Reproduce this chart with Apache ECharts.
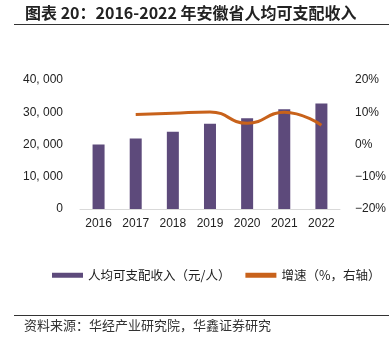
<!DOCTYPE html>
<html>
<head>
<meta charset="utf-8">
<script src="https://cdn.jsdelivr.net/npm/echarts@6/dist/echarts.min.js"></script>
<style>
  html, body { margin: 0; padding: 0; background: #fff; }
  #chart { width: 389px; height: 351px; }
</style>
</head>
<body>
<div id="chart"></div>
<script>
const years = ["2016", "2017", "2018", "2019", "2020", "2021", "2022"];
const income = [19998, 21863, 23984, 26415, 28103, 30904, 32745];
const growth = [null, 9.3, 9.7, 10.1, 6.6, 10.0, 6.0];

const titleText = "图表 20：2016-2022 年安徽省人均可支配收入";
const sourceText = "资料来源：华经产业研究院，华鑫证券研究";
const incomeName = "人均可支配收入（元/人）";
const growthName = "增速（%，右轴）";

const barColor = "#5d4a7b";
const lineColor = "#c8621b";
const cjk = "'Noto Sans CJK SC', 'Noto Sans', sans-serif";
const latin = "Arial, 'Liberation Sans', sans-serif";

const chart = echarts.init(document.getElementById("chart"), null, { renderer: "canvas" });

chart.setOption({
  animation: false,
  textStyle: { fontFamily: cjk },
  grid: { left: 80, right: 43, top: 80, bottom: 142 },
  graphic: [
    {
      type: "text", left: 25, top: 5,
      style: { text: titleText, font: "bold 16px " + cjk, fill: "#222" }
    },
    {
      type: "line",
      shape: { x1: 14, y1: 24.5, x2: 389, y2: 24.5 },
      style: { stroke: "#333", lineWidth: 1 }
    },
    {
      type: "line",
      shape: { x1: 14, y1: 315.5, x2: 389, y2: 315.5 },
      style: { stroke: "#333", lineWidth: 1 }
    },
    {
      type: "text", left: 24, top: 319,
      style: { text: sourceText, font: "13px " + cjk, fill: "#333" }
    }
  ],
  legend: {
    top: 269,
    left: 52,
    width: 337,
    padding: 0,
    itemGap: 15,
    itemWidth: 31,
    itemHeight: 5,
    textStyle: { fontSize: 12.5, color: "#222", fontFamily: cjk },
    data: [
      { name: incomeName, icon: "rect" },
      { name: growthName, icon: "rect", itemStyle: { color: lineColor } }
    ]
  },
  xAxis: {
    type: "category",
    data: years,
    axisTick: { show: false },
    axisLine: { lineStyle: { color: "#d9d9d9", width: 1 } },
    axisLabel: { color: "#222", fontSize: 12, margin: 9, fontFamily: latin }
  },
  yAxis: [
    {
      type: "value",
      min: 0, max: 40000, interval: 10000,
      splitLine: { show: false },
      axisLine: { show: false },
      axisTick: { show: false },
      axisLabel: {
        color: "#222", fontSize: 12, margin: 17, fontFamily: latin,
        formatter: v => v === 0 ? "0" : (v / 1000) + ", 000"
      }
    },
    {
      type: "value",
      min: -20, max: 20, interval: 10,
      splitLine: { show: false },
      axisLine: { show: false },
      axisTick: { show: false },
      axisLabel: {
        color: "#222", fontSize: 12, margin: 15, fontFamily: latin,
        formatter: v => (v < 0 ? "\u2212" + Math.abs(v) : v) + "%"
      }
    }
  ],
  series: [
    {
      name: incomeName,
      type: "bar",
      data: income,
      barWidth: 12,
      itemStyle: { color: barColor }
    },
    {
      name: growthName,
      type: "line",
      yAxisIndex: 1,
      data: growth,
      smooth: 0.5,
      showSymbol: false,
      symbol: "none",
      lineStyle: { color: lineColor, width: 3 },
      itemStyle: { color: lineColor }
    }
  ]
});
</script>
</body>
</html>
